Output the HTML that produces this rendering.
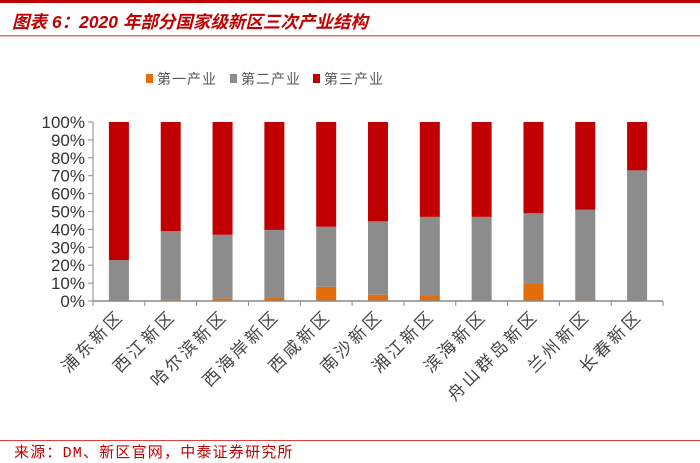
<!DOCTYPE html>
<html><head><meta charset="utf-8"><style>
body{margin:0;width:700px;height:463px;background:#fff;overflow:hidden;font-family:"Liberation Sans","Noto Sans CJK SC",sans-serif;}
svg{display:block}
</style></head><body>
<svg width="700" height="463" id="c">
<rect x="0" y="0" width="700" height="3" fill="#c00000"/>
<text x="12" y="28" font-size="17.5" font-weight="bold" font-style="italic" fill="#c00000" font-family="'Liberation Sans','Noto Sans CJK SC',sans-serif">图表 6：2020 年部分国家级新区三次产业结构</text>
<rect x="0" y="35" width="700" height="1.5" fill="#e07070"/>
<g id="legend"></g>
<g id="plot"></g>
<rect x="0" y="440" width="700" height="1" fill="#e04040"/>
<text x="14" y="457" font-size="15" letter-spacing="1.2" fill="#c00000" font-family="'Liberation Mono','Noto Sans CJK SC',sans-serif">来源：DM、新区官网，中泰证券研究所</text>
</svg>
<script>
const categories=["浦东新区","西江新区","哈尔滨新区","西海岸新区","西咸新区","南沙新区","湘江新区","滨海新区","舟山群岛新区","兰州新区","长春新区"];
const primary=[0,1,1.5,2,8,3.5,2.8,0,10,0.5,0];
const secondary=[22.9,38,35.5,37.7,33.5,41,44.2,47,39,50.5,73];
const tertiary=[77.1,61,63,60.3,58.5,55.5,53,53,51,49,27];
const yTicks=[0,10,20,30,40,50,60,70,80,90,100];
const seriesNames=["第一产业","第二产业","第三产业"];
const colors=["#e46c0a","#8c8c8c","#c00000"];
const NS="http://www.w3.org/2000/svg";
const x0=93,x1=663,y0=301,y1=122;
const band=(x1-x0)/categories.length,bw=20;
const ys=v=>y0-(v/100)*(y0-y1);
const xc=i=>x0+band*(i+0.5);
function mk(t,a,p){const e=document.createElementNS(NS,t);for(const k in a)e.setAttribute(k,a[k]);p.appendChild(e);return e;}
const plot=document.getElementById('plot');
const axis=mk('line',{x1:x0,y1:y1,x2:x0,y2:y0,stroke:'#888','stroke-width':1},plot);


yTicks.forEach(t=>{
 const tk=mk('line',{x1:x0-5,y1:ys(t),x2:x0,y2:ys(t),stroke:'#888'},plot);
 
 
 const tx=mk('text',{x:x0-8,y:ys(t)+6,'text-anchor':'end','font-size':17,fill:'#333'},plot);
 tx.textContent=t+'%';
 
 
});
const series=[primary,secondary,tertiary];
categories.forEach((c,i)=>{
 let acc=0;
 series.forEach((s,k)=>{
  const v=s[i];if(v<=0){return;}
  const r=mk('rect',{x:xc(i)-bw/2,y:ys(acc+v),width:bw,height:ys(acc)-ys(acc+v),fill:colors[k]},plot);
  
  
  acc+=v;
 });
 const tl=mk('text',{transform:`translate(${xc(i)+6},${y0+16}) rotate(-45)`,'text-anchor':'end','font-size':17,'letter-spacing':3,fill:'#444'},plot);
 tl.textContent=c;
 
 
});
const xa=mk('line',{x1:x0,y1:y0,x2:x1,y2:y0,stroke:'#888','stroke-width':1.5},plot);


for(let i=0;i<=categories.length;i++){
 const t=mk('line',{x1:x0+band*i,y1:y0,x2:x0+band*i,y2:y0+5,stroke:'#888'},plot);
 
 
}
const lg=document.getElementById('legend');
const lx=[146,230,313];
seriesNames.forEach((n,k)=>{
 const g=mk('g',{},lg);
 
 
 mk('rect',{x:lx[k],y:74,width:7,height:9,fill:colors[k]},g);
 const t=mk('text',{x:lx[k]+11,y:84,'font-size':14,'letter-spacing':1,fill:'#555'},g);
 t.textContent=n;
});
</script>
</body></html>
